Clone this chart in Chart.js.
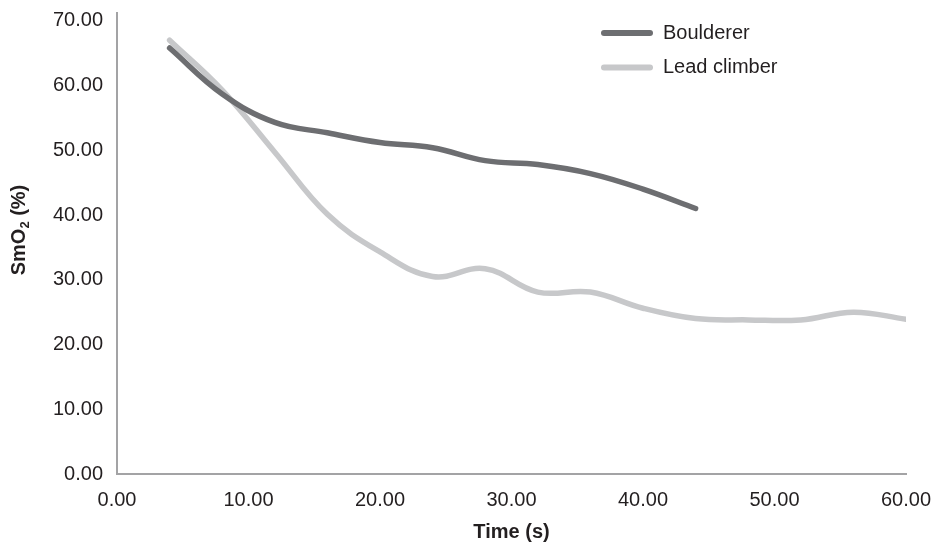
<!DOCTYPE html>
<html>
<head>
<meta charset="utf-8">
<script src="https://cdn.jsdelivr.net/npm/chart.js@4"></script>
<style>
  body { margin: 0; background: #fff; }
  #box { width: 933px; height: 543px; }
</style>
</head>
<body>
<div id="box"><canvas id="myChart"></canvas></div>
<script>
// valeurs (temps en s, SmO2 en %)
const boulderTime = [4, 8, 12, 16, 20, 24, 28, 32, 36, 40, 44];
const boulderSmO2 = [65.8, 58.7, 54.3, 52.7, 51.2, 50.4, 48.4, 47.8, 46.4, 44.0, 41.0];
const leadTime = [4, 8, 12, 16, 20, 24, 28, 32, 36, 40, 44, 48, 52, 56, 60];
const leadSmO2 = [67.0, 59.3, 49.7, 40.1, 34.3, 30.5, 31.7, 28.1, 28.1, 25.6, 24.0, 23.8, 23.8, 25.0, 23.9];
const xTicks = [0, 10, 20, 30, 40, 50, 60];
const yTicks = [0, 10, 20, 30, 40, 50, 60, 70];

const FONT = "'Liberation Sans', Arial, sans-serif";
const TEXT = "#231f20";

const toPoints = (xs, ys) => xs.map((x, i) => ({ x: x, y: ys[i] }));

// pas de débordement automatique des étiquettes
const noOverflow = (s) => {
  s.paddingTop = 0;
  s.paddingBottom = 0;
  s.paddingLeft = 0;
  s.paddingRight = 0;
};

// légende verticale en haut à droite + titre Y avec indice
const extraPlugin = {
  id: "extras",
  afterDraw(chart) {
    const ctx = chart.ctx;
    ctx.save();
    ctx.font = "20px " + FONT;
    ctx.textBaseline = "middle";
    chart.data.datasets.forEach((ds, i) => {
      const y = 33 + i * 34.5;
      ctx.strokeStyle = ds.borderColor;
      ctx.lineWidth = 6;
      ctx.lineCap = "round";
      ctx.beginPath();
      ctx.moveTo(604, y);
      ctx.lineTo(650, y);
      ctx.stroke();
      ctx.fillStyle = TEXT;
      ctx.fillText(ds.label, 663, y);
    });

    // SmO2 (%)
    ctx.translate(18, 230);
    ctx.rotate(-Math.PI / 2);
    ctx.fillStyle = TEXT;
    const big = "bold 20px " + FONT;
    const small = "bold 13px " + FONT;
    ctx.font = big;
    const w1 = ctx.measureText("SmO").width;
    const w3 = ctx.measureText(" (%)").width;
    ctx.font = small;
    const w2 = ctx.measureText("2").width;
    let x = -(w1 + w2 + w3) / 2;
    ctx.textBaseline = "alphabetic";
    ctx.font = big;
    ctx.fillText("SmO", x, 7);
    x += w1;
    ctx.font = small;
    ctx.fillText("2", x, 11);
    x += w2;
    ctx.font = big;
    ctx.fillText(" (%)", x, 7);
    ctx.restore();
  }
};

const ctx = document.getElementById("myChart").getContext("2d");
const chart = new Chart(ctx, {
  type: "line",
  data: {
    datasets: [
      {
        label: "Boulderer",
        data: toPoints(boulderTime, boulderSmO2),
        borderColor: "#6d6e71",
        borderWidth: 5.5,
        borderCapStyle: "round",
        pointRadius: 0,
        tension: 0.4,
        fill: false
      },
      {
        label: "Lead climber",
        data: toPoints(leadTime, leadSmO2),
        borderColor: "#c7c8ca",
        borderWidth: 5.5,
        borderCapStyle: "round",
        pointRadius: 0,
        tension: 0.4,
        fill: false
      }
    ]
  },
  options: {
    responsive: true,
    maintainAspectRatio: false,
    animation: false,
    layout: { padding: { top: 13, right: 27, left: 0, bottom: 0 } },
    plugins: {
      legend: { display: false },
      tooltip: { enabled: false }
    },
    scales: {
      x: {
        type: "linear",
        min: 0,
        max: 60,
        afterFit: (s) => { s.height = 69; noOverflow(s); },
        afterBuildTicks: (s) => { s.ticks = xTicks.map((v) => ({ value: v })); },
        grid: { display: false, drawTicks: false },
        border: { display: true, color: "#a3a3a5", width: 2 },
        ticks: {
          padding: 14,
          color: TEXT,
          font: { size: 20, family: FONT },
          maxRotation: 0,
          callback: (v) => Number(v).toFixed(2)
        },
        title: {
          display: true,
          text: "Time (s)",
          color: TEXT,
          padding: { top: 0, bottom: -1 },
          font: { size: 20, weight: "bold", family: FONT }
        }
      },
      y: {
        min: 0,
        max: 71.2,
        afterFit: (s) => { s.width = 117; noOverflow(s); },
        afterBuildTicks: (s) => { s.ticks = yTicks.map((v) => ({ value: v })); },
        grid: { display: false, drawTicks: false },
        border: { display: true, color: "#a3a3a5", width: 2 },
        ticks: {
          padding: 14,
          color: TEXT,
          font: { size: 20, family: FONT },
          callback: (v) => Number(v).toFixed(2)
        }
      }
    }
  },
  plugins: [extraPlugin]
});
</script>
</body>
</html>
